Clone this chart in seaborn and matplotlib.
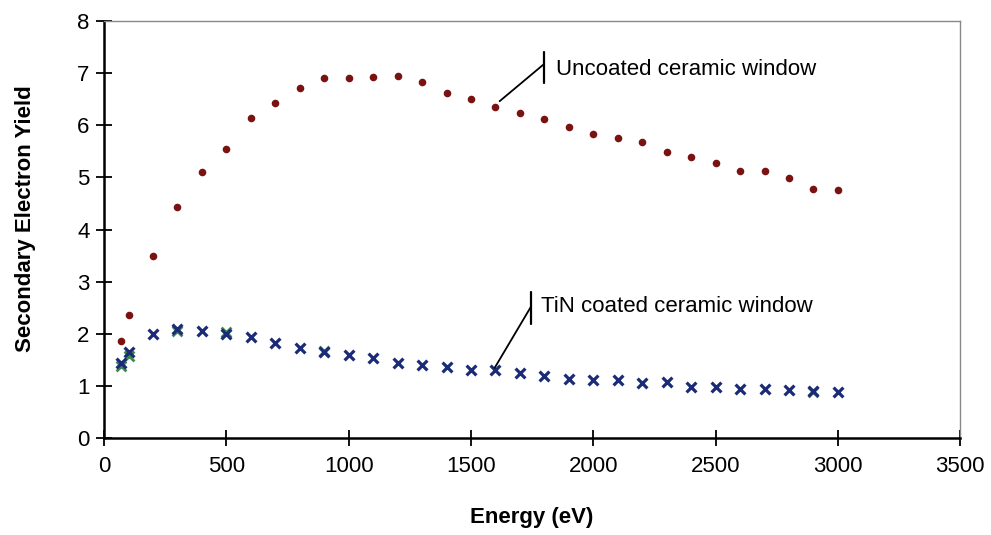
import numpy as np
import pandas as pd
import seaborn as sns
import matplotlib.pyplot as plt

# --- data ----------------------------------------------------------
energy = [70, 100, 200, 300, 400, 500, 600, 700, 800, 900, 1000, 1100, 1200,
          1300, 1400, 1500, 1600, 1700, 1800, 1900, 2000, 2100, 2200, 2300,
          2400, 2500, 2600, 2700, 2800, 2900, 3000]
uncoated = [1.87, 2.37, 3.50, 4.43, 5.10, 5.54, 6.13, 6.42, 6.72, 6.90, 6.90,
            6.92, 6.94, 6.82, 6.61, 6.51, 6.35, 6.23, 6.12, 5.96, 5.83, 5.76,
            5.67, 5.48, 5.39, 5.27, 5.12, 5.12, 4.98, 4.77, 4.76]
tin_coated = [1.44, 1.65, 2.00, 2.09, 2.06, 2.00, 1.94, 1.82, 1.73, 1.65, 1.60,
              1.53, 1.45, 1.40, 1.36, 1.31, 1.30, 1.25, 1.20, 1.14, 1.11, 1.11,
              1.05, 1.07, 0.99, 0.98, 0.95, 0.95, 0.93, 0.91, 0.89]
# faint green repeat run, only visible at a few energies
green_energy = [70, 100, 300, 500, 900, 2900]
green_yield = [1.38, 1.58, 2.05, 2.03, 1.67, 0.88]

df_u = pd.DataFrame({'Energy': energy, 'Yield': uncoated})
df_t = pd.DataFrame({'Energy': energy, 'Yield': tin_coated})
df_g = pd.DataFrame({'Energy': green_energy, 'Yield': green_yield})

sns.set_style('ticks')
plt.rcParams['font.family'] = ['Liberation Sans', 'DejaVu Sans']
plt.rcParams['text.color'] = 'black'
plt.rcParams['axes.labelcolor'] = 'black'

fig = plt.figure(figsize=(9.91, 5.35), dpi=100)
ax = fig.add_axes([0.105, 0.181, 0.864, 0.780])

sns.scatterplot(data=df_g, x='Energy', y='Yield', ax=ax, marker='x',
                color='#3d8a4a', s=50, linewidth=2, legend=False)
sns.scatterplot(data=df_t, x='Energy', y='Yield', ax=ax, marker='x',
                color='#1c2b78', s=50, linewidth=2.3, legend=False)
sns.scatterplot(data=df_u, x='Energy', y='Yield', ax=ax, marker='o',
                color='#7a1212', s=30, linewidth=0, legend=False)

ax.set_xlim(0, 3500)
ax.set_ylim(0, 8)
ax.set_xticks(range(0, 3501, 500))
ax.set_yticks(range(0, 9))
ax.tick_params(direction='inout', length=11, width=1.3, labelsize=16,
               colors='black')
ax.tick_params(axis='x', pad=7)
ax.tick_params(axis='y', pad=5)
for side in ['left', 'bottom']:
    ax.spines[side].set_linewidth(1.8)
    ax.spines[side].set_color('black')
for side in ['top', 'right']:
    ax.spines[side].set_visible(True)
    ax.spines[side].set_linewidth(1.0)
    ax.spines[side].set_color('#888888')

ax.set_xlabel('Energy (eV)', fontsize=16, fontweight='bold', labelpad=22)
ax.set_ylabel('Secondary Electron Yield', fontsize=16, fontweight='bold')
ax.yaxis.set_label_coords(-0.080, 0.526)

# callouts
ax.plot([1617, 1798], [6.46, 7.17], color='black', lw=1.3)
ax.plot([1798, 1798], [6.80, 7.40], color='black', lw=1.6)
ax.text(1848, 7.07, 'Uncoated ceramic window', fontsize=16, va='center')

ax.plot([1597, 1745], [1.35, 2.52], color='black', lw=1.3)
ax.plot([1745, 1745], [2.18, 2.81], color='black', lw=1.6)
ax.text(1787, 2.52, 'TiN coated ceramic window', fontsize=16, va='center')

fig.savefig('out.png', dpi=100)
